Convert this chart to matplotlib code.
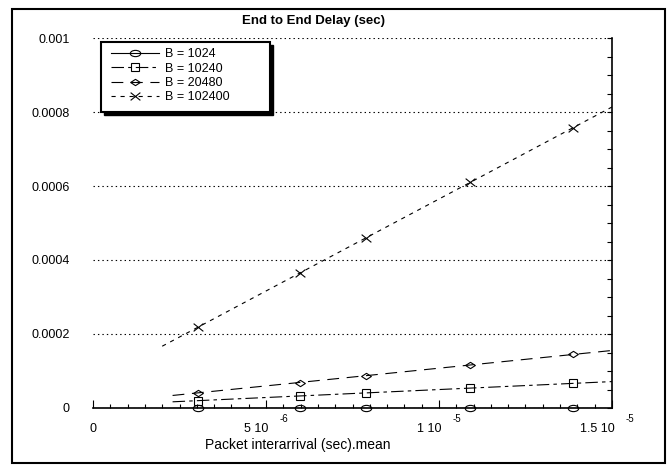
import numpy as np
import matplotlib
matplotlib.use("Agg")
import matplotlib.pyplot as plt
from matplotlib.path import Path
from matplotlib.markers import MarkerStyle
from matplotlib.transforms import Affine2D
from matplotlib.patches import Rectangle
from matplotlib.lines import Line2D
from matplotlib.ticker import MultipleLocator

plt.rcParams["font.family"] = ["Liberation Sans", "DejaVu Sans"]
plt.rcParams["lines.scale_dashes"] = False

# data
interarrival = [3.03e-6, 5.98e-6, 7.89e-6, 10.9e-6, 13.87e-6]
delay_1024 = [0.0, 0.0, 0.0, 0.0, 0.0]
delay_10240 = [1.98e-5, 3.24e-5, 4.14e-5, 5.32e-5, 6.67e-5]
delay_20480 = [4.14e-5, 6.85e-5, 8.74e-5, 1.16e-4, 1.45e-4]
delay_102400 = [2.18e-4, 3.65e-4, 4.60e-4, 6.10e-4, 7.57e-4]
series_labels = ["B = 1024", "B = 10240", "B = 20480", "B = 102400"]
fit_start = [2.3e-6, 2.3e-6, 2.3e-6, 2.0e-6]
fit_end = 1.5e-5

x_ticks = [0, 5e-6, 1e-5, 1.5e-5]
x_tick_base = ["0", "5 10", "1 10", "1.5 10"]
x_tick_exp = ["", "-6", "-5", "-5"]
y_ticks = [0, 0.0002, 0.0004, 0.0006, 0.0008, 0.001]
y_tick_labels = ["0", "0.0002", "0.0004", "0.0006", "0.0008", "0.001"]

# markers
ellipse = MarkerStyle(Path.unit_circle().transformed(Affine2D().scale(1, 0.6)))
diamond = MarkerStyle(Path([(-1, 0), (0, 0.65), (1, 0), (0, -0.65), (-1, 0)], closed=True))
cross = MarkerStyle(Path([(-1, -0.8), (1, 0.8), (-1, 0.8), (1, -0.8)],
                         [Path.MOVETO, Path.LINETO, Path.MOVETO, Path.LINETO]))
markers = [ellipse, "s", diamond, cross]
msizes = [7.5, 6, 7, 7]
styles = ["-", (0, (9, 3, 2.5, 3)), (0, (8.5, 5.5)), (0, (3, 3.5))]

fig = plt.figure(figsize=(6.68, 4.66), dpi=100)
ax = fig.add_axes([93 / 668, 58 / 466, 519 / 668, 370 / 466])

all_delays = [delay_1024, delay_10240, delay_20480, delay_102400]
handles = []
for ys, mk, ms, ls, x0, lab in zip(all_delays, markers, msizes, styles, fit_start, series_labels):
    coef = np.polyfit(interarrival, ys, 1)
    xf = np.array([x0, fit_end])
    ax.plot(xf, np.polyval(coef, xf), color="k", lw=0.8, linestyle=ls, zorder=3)
    ax.plot(interarrival, ys, linestyle="none", marker=mk, ms=ms, mfc="none",
            mec="k", mew=0.8, clip_on=False, zorder=4)
    handles.append(Line2D([], [], color="k", lw=0.8, linestyle=ls, marker=mk, ms=ms,
                          mfc="none", mec="k", mew=0.8, label=lab))

ax.set_xlim(0, 1.5e-5)
ax.set_ylim(0, 0.001)

for side in ["left", "top"]:
    ax.spines[side].set_visible(False)
ax.spines["bottom"].set_linewidth(1.2)
ax.spines["right"].set_linewidth(1.2)

ax.set_yticks(y_ticks)
ax.set_yticklabels(y_tick_labels, fontsize=9)
ax.yaxis.set_minor_locator(MultipleLocator(0.00005))
ax.tick_params(axis="y", which="both", left=False, right=True, direction="in",
               labelleft=True, width=0.8)
ax.tick_params(axis="y", which="major", length=3.5, pad=17)
ax.tick_params(axis="y", which="minor", length=3.5)

ax.set_xticks(x_ticks)
ax.set_xticklabels([])
ax.xaxis.set_minor_locator(MultipleLocator(5e-7))
ax.tick_params(axis="x", which="major", direction="in", length=6, width=0.8)
ax.tick_params(axis="x", which="minor", direction="in", length=3, width=0.8)

for xt, base, ex in zip(x_ticks, x_tick_base, x_tick_exp):
    if ex:
        ax.annotate(base, xy=(xt, 0), xycoords=("data", "axes fraction"),
                    xytext=(2, -15), textcoords="offset points",
                    ha="right", va="center", fontsize=9)
        ax.annotate(ex, xy=(xt, 0), xycoords=("data", "axes fraction"),
                    xytext=(10, -8), textcoords="offset points",
                    ha="left", va="center", fontsize=7)
    else:
        ax.annotate(base, xy=(xt, 0), xycoords=("data", "axes fraction"),
                    xytext=(0, -15), textcoords="offset points",
                    ha="center", va="center", fontsize=9)

ax.grid(axis="y", which="major", color="k", linestyle=(0, (1, 2.2)), lw=0.8)

fig.text(313 / 668, 1 - 21 / 466, "End to End Delay (sec)", ha="center", va="center",
         fontsize=9.5, weight="bold")
fig.text(298 / 668, 1 - 445 / 466, "Packet interarrival (sec).mean", ha="center",
         va="center", fontsize=10)

# legend box with black drop shadow
lx0, ly0, lw_, lh = 101 / 668, 1 - 112 / 466, 169 / 668, 70 / 466
fig.add_artist(Rectangle((lx0 + 3 / 668, ly0 - 3 / 466), lw_, lh, transform=fig.transFigure,
                         facecolor="k", edgecolor="k", zorder=5))
fig.add_artist(Rectangle((lx0, ly0), lw_, lh, transform=fig.transFigure,
                         facecolor="white", edgecolor="k", lw=1.5, zorder=6))
leg = fig.legend(handles=handles, loc="upper left", bbox_to_anchor=(111 / 668, 1 - 48 / 466),
                 frameon=False, fontsize=9, handlelength=3.85, handletextpad=0.5,
                 labelspacing=0.2, borderpad=0, borderaxespad=0, numpoints=1)
leg.set_zorder(7)

# outer frame
fig.add_artist(Rectangle((12 / 668, 1 - 463 / 466), 653 / 668, 454 / 466,
                         transform=fig.transFigure, fill=False, edgecolor="k", lw=1.5))

fig.savefig("out.png", dpi=100)
